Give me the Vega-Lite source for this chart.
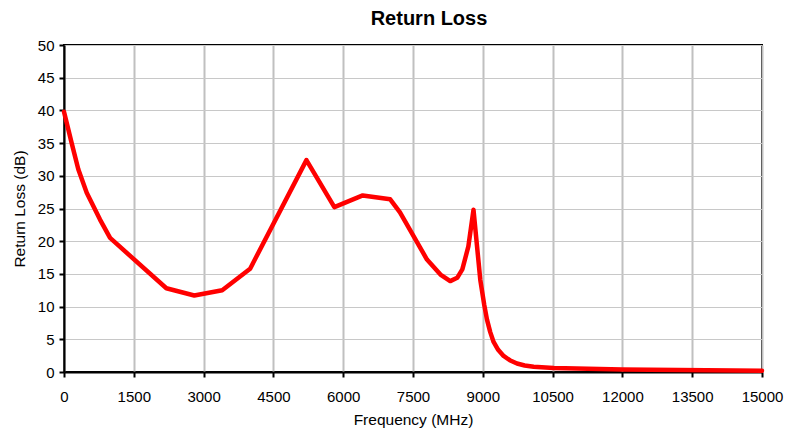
{
  "$schema": "https://vega.github.io/schema/vega-lite/v6.json",
  "width": 698,
  "height": 327,
  "autosize": {"type": "none"},
  "padding": {"left": 64, "top": 45, "right": 23, "bottom": 62},
  "background": "white",
  "title": {
    "text": "Return Loss",
    "font": "Liberation Sans",
    "fontSize": 20,
    "fontWeight": "bold",
    "color": "black",
    "anchor": "middle",
    "dx": 16,
    "offset": 9
  },
  "config": {
    "font": "Liberation Sans",
    "view": {"stroke": "black", "strokeWidth": 2},
    "axis": {
      "labelFont": "Liberation Sans",
      "titleFont": "Liberation Sans",
      "labelFontSize": 15,
      "titleFontSize": 15.5,
      "titleFontWeight": "normal",
      "labelColor": "black",
      "titleColor": "black",
      "domainColor": "black",
      "domainWidth": 2,
      "tickColor": "black",
      "tickWidth": 2,
      "tickSize": 5
    }
  },
  "data": {
    "values": [
      {"f": 0, "rl": 39.8},
      {"f": 165, "rl": 35.0},
      {"f": 307, "rl": 31.0},
      {"f": 488, "rl": 27.4},
      {"f": 774, "rl": 23.3},
      {"f": 990, "rl": 20.5},
      {"f": 2200, "rl": 12.8},
      {"f": 2800, "rl": 11.7},
      {"f": 3400, "rl": 12.5},
      {"f": 4000, "rl": 15.8},
      {"f": 5210, "rl": 32.4},
      {"f": 5810, "rl": 25.2},
      {"f": 6420, "rl": 27.0},
      {"f": 7010, "rl": 26.4},
      {"f": 7220, "rl": 24.4},
      {"f": 7800, "rl": 17.2},
      {"f": 8090, "rl": 14.9},
      {"f": 8300, "rl": 13.9},
      {"f": 8450, "rl": 14.4},
      {"f": 8560, "rl": 15.7},
      {"f": 8690, "rl": 19.2},
      {"f": 8800, "rl": 24.8},
      {"f": 8946, "rl": 14.1},
      {"f": 9030, "rl": 10.3},
      {"f": 9090, "rl": 8.0},
      {"f": 9160, "rl": 6.1},
      {"f": 9232, "rl": 4.6},
      {"f": 9330, "rl": 3.4},
      {"f": 9447, "rl": 2.45},
      {"f": 9580, "rl": 1.8},
      {"f": 9735, "rl": 1.3},
      {"f": 9900, "rl": 1.0},
      {"f": 10093, "rl": 0.8},
      {"f": 10523, "rl": 0.6},
      {"f": 12000, "rl": 0.4},
      {"f": 15000, "rl": 0.2}
    ]
  },
  "mark": {"type": "line", "color": "#ff0000", "strokeWidth": 4.5, "strokeJoin": "round", "strokeCap": "round"},
  "encoding": {
    "x": {
      "field": "f",
      "type": "quantitative",
      "title": "Frequency (MHz)",
      "scale": {"domain": [0, 15000], "nice": false, "zero": false},
      "axis": {
        "values": [0, 1500, 3000, 4500, 6000, 7500, 9000, 10500, 12000, 13500, 15000],
        "format": "d",
        "labelPadding": 12,
        "titlePadding": 8,
        "gridColor": "#c0c0c0",
        "gridWidth": 2,
        "labelFlush": false
      }
    },
    "y": {
      "field": "rl",
      "type": "quantitative",
      "title": "Return Loss (dB)",
      "scale": {"domain": [0, 50], "nice": false},
      "axis": {
        "values": [0, 5, 10, 15, 20, 25, 30, 35, 40, 45, 50],
        "labelPadding": 5,
        "titlePadding": 10,
        "gridColor": "#c8c8c8",
        "gridWidth": 1
      }
    }
  }
}
